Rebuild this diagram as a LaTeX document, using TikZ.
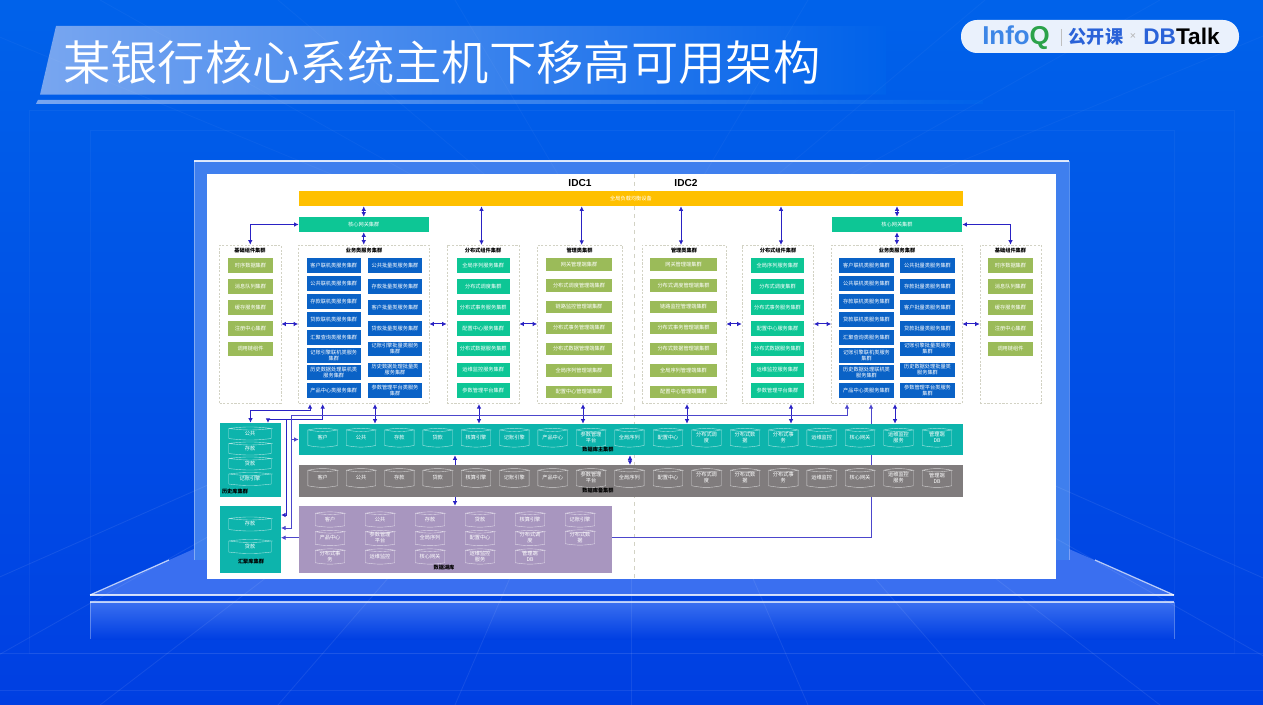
\documentclass[tikz,border=0pt]{standalone}
\usepackage{fontspec}
\setmainfont{Noto Sans CJK SC}
\newfontfamily\latinbold{Liberation Sans}
\newfontfamily\titlefont{Noto Sans CJK SC DemiLight}
\usetikzlibrary{arrows.meta,calc}
\definecolor{bgtop}{HTML}{0062EA}
\definecolor{bgbot}{HTML}{003FE2}
\definecolor{bandl}{HTML}{78A6F0}
\definecolor{framec}{HTML}{3F7FEE}
\definecolor{platc}{HTML}{3A6FF0}
\definecolor{tealc}{HTML}{0DB4AC}
\definecolor{greenc}{HTML}{0DC695}
\definecolor{bluec}{HTML}{0A62C6}
\definecolor{olivec}{HTML}{9BBB59}
\definecolor{yelc}{HTML}{FFC000}
\definecolor{grayc}{HTML}{807C7D}
\definecolor{purc}{HTML}{A896BF}
\definecolor{dashc}{HTML}{D2D2C4}
\definecolor{arrc}{HTML}{2A22C4}
\definecolor{arrl}{HTML}{4C46CC}
\definecolor{qblue}{HTML}{3D86E6}
\definecolor{qgreen}{HTML}{2BA24A}
\definecolor{dbblue}{HTML}{2A62D8}
\definecolor{pillc}{HTML}{EAF1FC}
\pgfdeclarelayer{scenery}
\pgfdeclarelayer{conn}
\pgfsetlayers{scenery,conn,main}
\tikzset{
  tiny text/.style={font=\fontsize{3.9}{4.5}\selectfont,text=white,align=center,inner sep=0pt},
  bar/.style={tiny text},
  groupbox/.style={draw=dashc,line width=.45pt,fill=white,dash pattern=on 1.6pt off 1.2pt},
  grouptitle/.style={font=\fontsize{3.9}{4.5}\selectfont\bfseries,text=black,inner sep=0pt},
  cylt/.style={tiny text,text=white},
  cylline/.style={draw=white,draw opacity=.65,line width=.3pt},
  tips/.style={{Latex[length=3.4pt,width=3.4pt]}-{Latex[length=3.4pt,width=3.4pt]}},
  dbl/.style={draw=arrc,line width=.75pt,tips},
  sgl/.style={draw=arrc,line width=.75pt,-{Latex[length=3.4pt,width=3.4pt]}},
  longl/.style={draw=arrl,line width=.7pt,tips},
  longs/.style={draw=arrl,line width=.7pt,-{Latex[length=3.4pt,width=3.4pt]}},
  gridl/.style={draw=white,draw opacity=.08,line width=.6pt},
  fill olive/.style={tiny text,fill=olivec},
  fill green/.style={tiny text,fill=greenc},
  fill blue/.style={tiny text,fill=bluec},
}
\newcommand\bx[7]{\node[#2,minimum width={((#5)-(#3))*0.75pt},minimum height={((#6)-(#4))*0.75pt}] (#1) at ({((#3)+(#5))/2},{((#4)+(#6))/2}) {#7};}
% name, cx, cy, w, h, text, bend
\newcommand\cyl[7]{%
  \node[cylt,minimum width={(#4)*0.75pt},minimum height={(#5)*0.75pt}] (#1) at (#2,#3) {#6};
  \draw[cylline] (#1.north west) to[bend left=#7] (#1.north east) to[bend left=#7] (#1.north west);
  \draw[cylline] (#1.north west) -- (#1.south west) to[bend right=#7] (#1.south east) -- (#1.north east);
}
\newcommand\jichu[3]{\foreach \a/\b/\t [count=\i] in {258.5/273/时序数据集群,279/294/消息队列集群,300/315/缓存服务集群,321/336/注册中心集群,342/356/调用链组件}{\bx{#1\i}{fill olive}{#2}{\a}{#3}{\b}{\t}}}
\newcommand\fenbu[3]{\foreach \a/\b/\t [count=\i] in {258.5/273/全局序列服务集群,279/294/分布式调度集群,300/315/分布式事务服务集群,321/336/配置中心服务集群,342/356/分布式数据服务集群,363/377/运维监控服务集群,383/398/参数管理平台集群}{\bx{#1\i}{fill green}{#2}{\a}{#3}{\b}{\t}}}
\newcommand\guanli[3]{\foreach \a/\b/\t [count=\i] in {258.5/271/网关管理端集群,279.5/292/分布式调度管理端集群,301/313/链路监控管理端集群,322/334/分布式事务管理端集群,343/355/分布式数据管理端集群,364/377/全局序列管理端集群,386/398/配置中心管理端集群}{\bx{#1\i}{fill olive}{#2}{\a}{#3}{\b}{\t}}}
\newcommand\yewua[3]{\foreach \a/\b/\t [count=\i] in {258.5/273/客户联机类服务集群,276/291/公共联机类服务集群,294/309/存款联机类服务集群,312/327/贷款联机类服务集群,330/345/汇聚查询类服务集群,348/363/{记账引擎联机类服务\\集群},365.5/380/{历史数据处理联机类\\服务集群},383/398/产品中心类服务集群}{\bx{#1\i}{fill blue}{#2}{\a}{#3}{\b}{\t}}}
\newcommand\yewub[3]{\foreach \a/\b/\t [count=\i] in {258.5/273/公共批量类服务集群,279/294/存款批量类服务集群,300/315/客户批量类服务集群,321/336/贷款批量类服务集群,342/356/{记账引擎批量类服务\\集群},363/377/{历史数据处理批量类\\服务集群},383/398/{参数管理平台类服务\\集群}}{\bx{#1\i}{fill blue}{#2}{\a}{#3}{\b}{\t}}}
\begin{document}
\begin{tikzpicture}[x=0.75pt,y=-0.75pt]
\useasboundingbox (0,0) rectangle (1263,705);
\begin{pgfonlayer}{scenery}
  \shade[top color=bgtop,bottom color=bgbot] (0,0) rectangle (1263,705);
  % title band
  \shade[left color=bandl,right color=bgtop] (56,26) -- (886,26) -- (886,94.7) -- (40,94.7) -- cycle;
  \shade[left color=bandl,right color=bgtop] (38,100) -- (983,100) -- (983,104) -- (36,104) -- cycle;
  % stage
  \fill[platc] (90,595) -- (194,549) -- (1069,549) -- (1174,595) -- cycle;
  \draw[white,opacity=.7,line width=.9pt] (90,595) -- (169,560);
  \draw[white,opacity=.7,line width=.9pt] (1174,595) -- (1095,560);
  \draw[white,opacity=.8,line width=1.5pt] (90,595) -- (1174,595);
  \fill[framec] (194,161) rectangle (1069,560);
  \draw[white,opacity=.35,line width=.7pt] (194,560) -- (194,161) (1069,161) -- (1069,560);
  \draw[white,opacity=.85,line width=.8pt] (194,161) -- (1069,161);
  \shade[top color=platc,bottom color=bgbot] (90,602) rectangle (1174,639);
  \draw[white,opacity=.7,line width=1pt] (90,602) -- (1174,602);
  \draw[white,opacity=.3,line width=.6pt] (90,602) -- (90,639) (1174,602) -- (1174,639);
  % perspective grid
  \foreach \e in {-290,-90,100,278,455,631,808,985,1160,1350,1550}{\draw[gridl] (631,298) -- (\e,705);}
  \foreach \e in {-90,100,278,455,808,985,1160,1350}{\draw[gridl,draw opacity=.035] (631,298) -- (\e,0);}
  \draw[gridl] (0,653) -- (1263,653) (0,690) -- (1263,690);
  \draw[gridl,draw opacity=.04] (29,110) rectangle (1234,653);
  \draw[gridl,draw opacity=.04] (90,130) rectangle (1174,600);
  % white panel
  \fill[white] (207,174) rectangle (1056,579);
  \draw[dashc,dashed,line width=.5pt] (634.5,174) -- (634.5,579);
\end{pgfonlayer}

% title and logo
\node[inner sep=0pt,anchor=west,text=white,font=\titlefont\fontsize{35.5}{38}\selectfont] (title) at (63,63) {某银行核心系统主机下移高可用架构};
\bx{pill}{fill=pillc,rounded corners=12pt}{961}{20}{1239}{53}{}
\node[inner sep=0pt,anchor=base west,font=\latinbold\bfseries\fontsize{19.4}{20}\selectfont] (infoq) at (982,45) {\textcolor{qblue}{Info}\textcolor{qgreen}{Q}};
\node[inner sep=0pt,font=\bfseries\fontsize{13.6}{15}\selectfont,text=dbblue] (gkk) at (1096,37) {公开课};
\node[inner sep=0pt,font=\latinbold\fontsize{8}{9}\selectfont,text=gray!60] (xmark) at (1133,37) {×};
\node[inner sep=0pt,anchor=base west,font=\latinbold\bfseries\fontsize{17}{18}\selectfont] (dbt) at (1143,44.5) {\textcolor{dbblue}{DB}\textcolor{black}{Talk}};
\draw[gray!50,line width=.4pt] (1061,29) -- (1061,46);

% IDC labels
\node[inner sep=0pt,font=\latinbold\bfseries\fontsize{7.6}{8}\selectfont] (idc1) at (580,183) {IDC1};
\node[inner sep=0pt,font=\latinbold\bfseries\fontsize{7.6}{8}\selectfont] (idc2) at (686,183) {IDC2};

% load balancer and gateways
\bx{yel}{bar,fill=yelc}{299}{191}{963}{206}{全局负载均衡设备}
\bx{gwL}{bar,fill=greenc}{299}{217}{428.5}{232}{核心网关集群}
\bx{gwR}{bar,fill=greenc}{832}{217}{962}{232}{核心网关集群}

% groups
\bx{jcL}{groupbox}{219.5}{245}{281}{403}{}
\bx{bizL}{groupbox}{298.5}{245}{429}{403}{}
\bx{dsL}{groupbox}{447}{245}{519}{403}{}
\bx{glL}{groupbox}{537.5}{245}{622}{403}{}
\bx{glR}{groupbox}{642}{245}{726}{403}{}
\bx{dsR}{groupbox}{742}{245}{813.5}{403}{}
\bx{bizR}{groupbox}{831.5}{245}{962}{403}{}
\bx{jcR}{groupbox}{980}{245}{1041}{403}{}
\foreach \n/\x/\t in {tjcL/250/基础组件集群,tbizL/364/业务类服务集群,tdsL/483/分布式组件集群,tglL/579.5/管理类集群,tglR/684/管理类集群,tdsR/778/分布式组件集群,tbizR/897/业务类服务集群,tjcR/1010.5/基础组件集群}{\node[grouptitle] (\n) at (\x,250.5) {\t};}

\jichu{ja}{228}{273}
\jichu{jb}{988}{1033}
\yewua{ya}{306.5}{361}
\yewub{yb}{368}{422}
\yewua{yc}{839}{894}
\yewub{yd}{900}{955}
\fenbu{fa}{456.5}{510}
\fenbu{fb}{751}{804}
\guanli{ga}{546}{612}
\guanli{gb}{650}{717}

% database bars
\bx{dbm}{fill=tealc}{299}{424}{963}{455}{}
\bx{dbb}{fill=grayc}{299}{465}{963}{497}{}
\bx{lake}{fill=purc}{299}{506}{612}{573}{}
\bx{hist}{fill=tealc}{220}{423}{281}{497}{}
\bx{sumdb}{fill=tealc}{220}{506}{281}{573}{}

\foreach \x/\t [count=\i] in {322.7/客户,361/公共,399.3/存款,437.7/贷款,476/核算引擎,514.3/记账引擎,552.7/产品中心,591/{参数管理\\平台},629.3/全局序列,668/配置中心,706.5/{分布式调\\度},745/{分布式数\\据},783.3/{分布式事\\务},821.7/运维监控,860/核心网关,898.5/{运维监控\\服务},937/{管理端\\DB}}{
  \cyl{ma\i}{\x}{437.7}{29}{15}{\t}{11}
  \cyl{ba\i}{\x}{478}{29}{15}{\t}{11}
}
\foreach \x/\y/\t [count=\i] in {330/519.5/客户,380/519.5/公共,430/519.5/存款,480/519.5/贷款,530/519.5/核算引擎,580/519.5/记账引擎,330/538/产品中心,380/538/{参数管理\\平台},430/538/全局序列,480/538/配置中心,530/538/{分布式调\\度},580/537.5/{分布式数\\据},330/556.5/{分布式事\\务},380/556.5/运维监控,430/556.5/核心网关,480/556.5/{运维监控\\服务},530/556.5/{管理端\\DB}}{
  \cyl{la\i}{\x}{\y}{29}{12}{\t}{9}
}
\foreach \y/\t [count=\i] in {433.5/公共,448.5/存款,463.5/贷款,479/记账引擎}{\cyl{hi\i}{250}{\y}{42}{9.5}{\t}{7}}
\foreach \y/\t [count=\i] in {524/存款,546.5/贷款}{\cyl{su\i}{250}{\y}{42}{10.5}{\t}{7}}

\node[grouptitle] (capm) at (598,450) {数据库主集群};
\node[grouptitle] (capb) at (598,491) {数据库备集群};
\node[grouptitle] (capl) at (444,568) {数据湖库};
\node[grouptitle] (caph) at (235,492) {历史库集群};
\node[grouptitle] (caps) at (251,562) {汇聚库集群};

% connector anchors
\coordinate (ha) at (310,404);
\coordinate (hb) at (322.7,404);
\coordinate (hbj) at (286,420);
\coordinate (hist2) at (268,423);
\coordinate (busr) at (847,404);
\coordinate (busl) at (291.7,415);
\coordinate (sumb) at (281,515);
\coordinate (sumc) at (281,528);
\coordinate (sumd) at (281,537.7);
\coordinate (coreR) at (871,404);
\coordinate (v1) at (375,404);
\coordinate (v2) at (479,404);
\coordinate (v3) at (583,404);
\coordinate (v4) at (687,404);
\coordinate (v5) at (791,404);
\coordinate (v6) at (895,404);
\coordinate (u1) at (455,465);
\coordinate (u2) at (455,497);
\coordinate (u3) at (630,465);
\coordinate (yd) at (481.5,245);
\coordinate (ym) at (581.7,245);
\coordinate (ym2) at (681,245);
\coordinate (yd2) at (781,245);

\begin{pgfonlayer}{conn}
  \draw[dbl] (gwL.north) -- (gwL.north |- yel.south);
  \draw[dbl] (gwL.south) -- (bizL.north);
  \draw[dbl] (gwR.north) -- (gwR.north |- yel.south);
  \draw[dbl] (gwR.south) -- (bizR.north);
  \draw[dbl] (yd) -- (yd |- yel.south);
  \draw[dbl] (ym) -- (ym |- yel.south);
  \draw[dbl] (ym2) -- (ym2 |- yel.south);
  \draw[dbl] (yd2) -- (yd2 |- yel.south);
  \draw[dbl] (gwL.west) -| (jcL.north);
  \draw[dbl] (gwR.east) -| (jcR.north);
  \draw[dbl] (jcL.east) -- (bizL.west);
  \draw[dbl] (bizL.east) -- (dsL.west);
  \draw[dbl] (dsL.east) -- (glL.west);
  \draw[dbl] (glR.east) -- (dsR.west);
  \draw[dbl] (dsR.east) -- (bizR.west);
  \draw[dbl] (bizR.east) -- (jcR.west);
  \foreach \v in {v1,v2,v3,v4,v5,v6}{\draw[dbl] (\v) -- (\v |- dbm.north);}
  % history library links
  \draw[dbl] (ha) -- (ha |- 0,411) -| (hist.north);
  \draw[dbl] (hb) -- (hb |- 0,420) -| (hist2);
  \draw[sgl] (hbj) -- (hbj |- sumb) -- (sumb);
  % shared bus
  \draw[longl] (busr) -- (busr |- busl) -- (busl) -- (busl |- sumc) -- (sumc);
  \draw[longs] (busl |- dbm.west) -- (dbm.west);
  % long link behind the bars
  \draw[longl] (coreR) -- (coreR |- sumd) -- (sumd);
  % between bars
  \draw[sgl] (u1) -- (u1 |- dbm.south);
  \draw[sgl] (u2) -- (u2 |- lake.north);
  \draw[dbl] (u3) -- (u3 |- dbm.south);
\end{pgfonlayer}
\end{tikzpicture}
\end{document}
